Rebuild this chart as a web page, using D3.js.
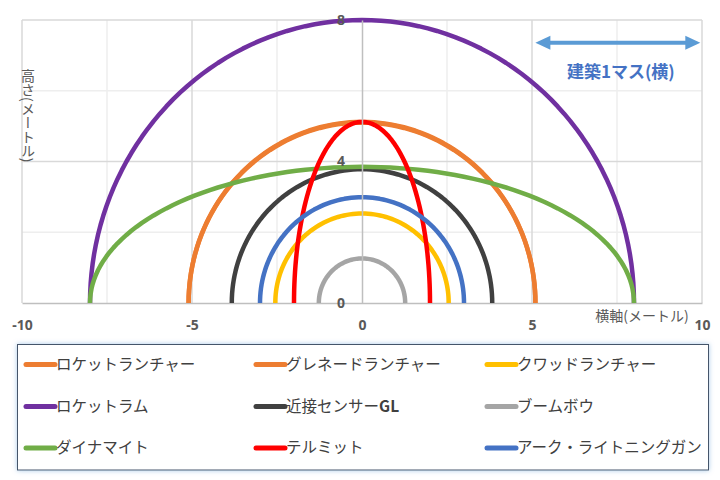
<!DOCTYPE html>
<html>
<head>
<meta charset="utf-8">
<script src="https://cdn.jsdelivr.net/npm/d3@7"></script>
<style>
  html, body { margin: 0; padding: 0; background: #ffffff; }
  svg { display: block; }
</style>
</head>
<body>
<svg id="chart" width="720" height="480"></svg>
<script>
// Blast reach of each item: half width (horizontal) and height, in metres
const seriesNames = ["ロケットランチャー", "グレネードランチャー", "クワッドランチャー",
                     "ロケットラム", "近接センサーGL", "ブームボウ",
                     "ダイナマイト", "テルミット", "アーク・ライトニングガン"];
const halfWidths  = [5.1, 5.1, 2.55, 8.0, 3.83, 1.27, 8.0, 2.0, 3.0];
const heights     = [5.1, 5.12, 2.53, 8.0, 3.78, 1.26, 3.85, 5.12, 2.99];
const seriesColors = ["#ed7d31", "#ed7d31", "#ffc000", "#7030a0", "#404040",
                      "#a5a5a5", "#70ad47", "#ff0000", "#4472c4"];

const xTicks = [-10, -5, 0, 5, 10];
const yTicks = [0, 4, 8];
const xMinorGrid = [-7.5, -2.5, 2.5, 7.5];
const yMinorGrid = [2, 6];
const tileSpan = [5.1, 9.95];   // one building tile, horizontal
const tileLabel = "建築1マス(横)";

const svg = d3.select("#chart");
const x = d3.scaleLinear().domain([-10, 10]).range([22, 702]);
const y = d3.scaleLinear().domain([0, 8]).range([303, 20]);
const plain = d => String(d);

// grid
const grid = svg.append("g");
grid.selectAll(".gxm").data(xMinorGrid).join("line")
  .attr("x1", d => x(d)).attr("x2", d => x(d)).attr("y1", y(0)).attr("y2", y(8))
  .attr("stroke", "#eeeeee").attr("stroke-width", 1.5);
grid.selectAll(".gym").data(yMinorGrid).join("line")
  .attr("x1", x(-10)).attr("x2", x(10)).attr("y1", d => y(d)).attr("y2", d => y(d))
  .attr("stroke", "#eeeeee").attr("stroke-width", 1.5);
grid.selectAll(".gx").data(xTicks.filter(d => d !== 0)).join("line")
  .attr("x1", d => x(d)).attr("x2", d => x(d)).attr("y1", y(0)).attr("y2", y(8))
  .attr("stroke", "#d9d9d9").attr("stroke-width", 1.5);
grid.selectAll(".gy").data(yTicks.filter(d => d !== 0)).join("line")
  .attr("x1", x(-10)).attr("x2", x(10)).attr("y1", d => y(d)).attr("y2", d => y(d))
  .attr("stroke", "#d9d9d9").attr("stroke-width", 1.5);

// axes through the origin
const xAxis = d3.axisBottom(x).tickValues(xTicks).tickFormat(plain).tickSize(0).tickPadding(0);
const gx = svg.append("g").attr("transform", `translate(0,${y(0)})`).call(xAxis);
gx.select(".domain").attr("stroke", "#bfbfbf").attr("stroke-width", 1.5);
gx.selectAll("text").attr("y", 27).attr("dy", null)
  .attr("font-family", "'Noto Sans', sans-serif").attr("font-size", 14)
  .attr("font-weight", "bold").attr("fill", "#595959");

const yAxis = d3.axisLeft(y).tickValues(yTicks).tickFormat(plain).tickSize(0).tickPadding(15);
const gy = svg.append("g").attr("transform", `translate(${x(0)},0)`).call(yAxis);
gy.select(".domain").attr("stroke", "#bfbfbf").attr("stroke-width", 1.5);
gy.selectAll(".tick text").attr("text-anchor", "middle").attr("x", -21)
  .attr("font-family", "'Noto Sans', sans-serif").attr("font-size", 14)
  .attr("font-weight", "bold").attr("fill", "#595959");

// semi-elliptic reach curves
const line = d3.line().x(d => x(d[0])).y(d => y(d[1]));
const steps = d3.range(0, 181, 2);
const curves = seriesNames.map((name, i) => ({
  name, color: seriesColors[i],
  pts: steps.map(a => {
    const t = a * Math.PI / 180;
    return [-halfWidths[i] * Math.cos(t), heights[i] * Math.sin(t)];
  })
}));
svg.append("g").selectAll("path").data(curves).join("path")
  .attr("d", d => line(d.pts))
  .attr("fill", "none").attr("stroke", d => d.color).attr("stroke-width", 4.5)
  .attr("stroke-linejoin", "round");

// keep the y tick labels above the curves
gy.raise();

// axis titles
svg.append("text")
  .attr("x", 642).attr("y", 321).attr("text-anchor", "middle")
  .attr("font-family", "'Noto Sans CJK JP', sans-serif").attr("font-size", 14)
  .attr("fill", "#595959").text("横軸(メートル)");

svg.append("text")
  .attr("x", 28).attr("y", 69)
  .style("writing-mode", "vertical-rl")
  .attr("font-family", "'Noto Sans CJK JP', sans-serif").attr("font-size", 14)
  .attr("fill", "#595959").text("高さ(メートル)");

// building tile scale arrow
const defs = svg.append("defs");
const arrowY = 7.36;
const ax1 = x(tileSpan[0]), ax2 = x(tileSpan[1]), ay = y(arrowY);
svg.append("line")
  .attr("x1", ax1 + 12).attr("x2", ax2 - 12).attr("y1", ay).attr("y2", ay)
  .attr("stroke", "#5b9bd5").attr("stroke-width", 4);
svg.append("path")
  .attr("d", `M${ax1},${ay} L${ax1 + 15},${ay - 7} L${ax1 + 15},${ay + 7} Z`)
  .attr("fill", "#5b9bd5");
svg.append("path")
  .attr("d", `M${ax2},${ay} L${ax2 - 15},${ay - 7} L${ax2 - 15},${ay + 7} Z`)
  .attr("fill", "#5b9bd5");
svg.append("text")
  .attr("x", (ax1 + ax2) / 2 + 3).attr("y", 78).attr("text-anchor", "middle")
  .attr("font-family", "'Noto Sans CJK JP', sans-serif").attr("font-size", 17)
  .attr("font-weight", "bold").attr("fill", "#4472c4").text(tileLabel);

// legend
const glow = defs.append("filter").attr("id", "glow")
  .attr("x", "-5%").attr("y", "-10%").attr("width", "110%").attr("height", "120%");
glow.append("feDropShadow").attr("dx", 0).attr("dy", 0).attr("stdDeviation", 2.5)
  .attr("flood-color", "#9dc3e6").attr("flood-opacity", 0.9);

svg.append("rect")
  .attr("x", 17.5).attr("y", 344.5).attr("width", 691).attr("height", 125.5)
  .attr("fill", "#ffffff").attr("stroke", "#44546a").attr("stroke-width", 1)
  .attr("filter", "url(#glow)");

const colX = [26, 256, 487];
const rowY = [364.5, 406.5, 448];
const legend = svg.append("g").selectAll("g").data(curves).join("g")
  .attr("transform", (d, i) => `translate(${colX[i % 3]},${rowY[Math.floor(i / 3)]})`);
legend.append("line")
  .attr("x1", 0).attr("x2", 29).attr("y1", 0).attr("y2", 0)
  .attr("stroke", d => d.color).attr("stroke-width", 5).attr("stroke-linecap", "round");
legend.append("text")
  .attr("x", 30).attr("y", 0).attr("dy", "0.35em")
  .attr("font-family", "'Noto Sans CJK JP', sans-serif").attr("font-size", 15.5)
  .attr("fill", "#404040")
  .each(function (d) {
    const t = d3.select(this);
    const m = d.name.match(/^(.*?)([A-Z]+)$/);
    if (m) {
      t.append("tspan").text(m[1]);
      t.append("tspan").attr("font-weight", "bold").text(m[2]);
    } else {
      t.text(d.name);
    }
  });
</script>
</body>
</html>
